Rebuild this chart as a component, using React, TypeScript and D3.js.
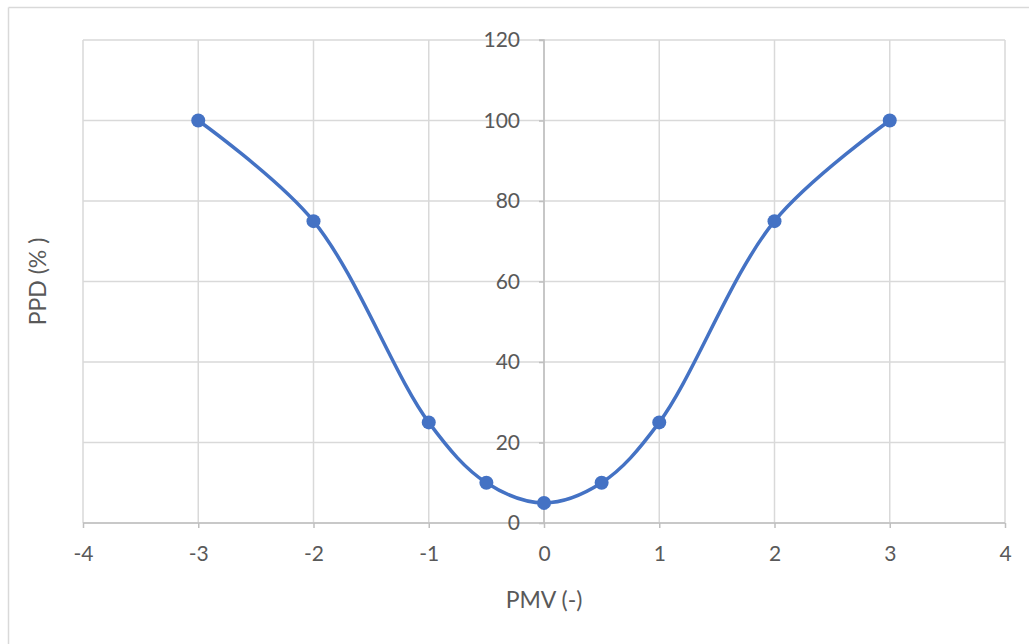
import React, { useEffect, useRef } from 'react';
import * as d3 from 'd3';

// PMV / PPD points
const pmvValues = [-3, -2, -1, -0.5, 0, 0.5, 1, 2, 3];
const ppdValues = [100, 75, 25, 10, 5, 10, 25, 75, 100];
const xTicks = [-4, -3, -2, -1, 0, 1, 2, 3, 4];
const yTicks = [0, 20, 40, 60, 80, 100, 120];

const W = 1029;
const H = 644;

const App = () => {
  const ref = useRef<SVGSVGElement | null>(null);

  useEffect(() => {
    const svg = d3.select(ref.current);
    svg.selectAll('*').remove();

    const margin = { top: 40, right: 24, bottom: 121, left: 83 };
    const font = 'Lato, "Open Sans", sans-serif';
    const textColor = '#595959';

    const x = d3.scaleLinear().domain([-4, 4]).range([margin.left, W - margin.right]);
    const y = d3.scaleLinear().domain([0, 120]).range([H - margin.bottom, margin.top]);

    // chart frame (only top + left visible in the crop)
    svg.append('line').attr('x1', 8.5).attr('x2', W).attr('y1', 7.5).attr('y2', 7.5)
      .attr('stroke', '#d9d9d9').attr('stroke-width', 1.5);
    svg.append('line').attr('x1', 8.5).attr('x2', 8.5).attr('y1', 7.5).attr('y2', H)
      .attr('stroke', '#d9d9d9').attr('stroke-width', 1.5);

    // gridlines
    svg.append('g').selectAll('line.v').data(xTicks).enter().append('line')
      .attr('x1', d => x(d)).attr('x2', d => x(d))
      .attr('y1', y(120)).attr('y2', y(0))
      .attr('stroke', '#d9d9d9').attr('stroke-width', 1.5);
    svg.append('g').selectAll('line.h').data(yTicks).enter().append('line')
      .attr('x1', x(-4)).attr('x2', x(4))
      .attr('y1', d => y(d)).attr('y2', d => y(d))
      .attr('stroke', '#d9d9d9').attr('stroke-width', 1.5);

    // axes crossing at 0
    const xAxis = d3.axisBottom(x).tickValues(xTicks).tickSize(5).tickPadding(18)
      .tickFormat(d => String(d).replace('−', '-'));
    const gx = svg.append('g').attr('transform', `translate(0, ${y(0)})`).call(xAxis);

    const yAxis = d3.axisLeft(y).tickValues(yTicks).tickSize(5).tickPadding(19)
      .tickFormat(d => String(d));
    const gy = svg.append('g').attr('transform', `translate(${x(0)}, 0)`).call(yAxis);

    [gx, gy].forEach(g => {
      g.select('.domain').attr('stroke', '#bfbfbf').attr('stroke-width', 1.5);
      g.selectAll('.tick line').attr('stroke', '#bfbfbf').attr('stroke-width', 1.5);
      g.selectAll('.tick text')
        .attr('fill', textColor)
        .attr('font-family', font)
        .attr('font-size', 21);
    });
    gy.select('.domain').attr('d', `M-5,${y(120)}H0V${y(0)}`);
    gx.select('.domain').attr('d', `M${x(-4)},0H${x(4)}`);

    // axis titles
    svg.append('text')
      .attr('x', (x(-4) + x(4)) / 2)
      .attr('y', 608)
      .attr('text-anchor', 'middle')
      .attr('fill', textColor)
      .attr('font-family', font)
      .attr('font-size', 23)
      .text('PMV (-)');

    svg.append('text')
      .attr('transform', `translate(46, ${(y(0) + y(120)) / 2}) rotate(-90)`)
      .attr('text-anchor', 'middle')
      .attr('fill', textColor)
      .attr('font-family', font)
      .attr('font-size', 23)
      .text('PPD (% )');

    // smoothed series
    const pts: [number, number][] = pmvValues.map((v, i) => [v, ppdValues[i]]);
    const line = d3.line<[number, number]>()
      .x(d => x(d[0]))
      .y(d => y(d[1]))
      .curve(d3.curveCatmullRom.alpha(0.5));

    svg.append('path')
      .datum(pts)
      .attr('d', line)
      .attr('fill', 'none')
      .attr('stroke', '#4472c4')
      .attr('stroke-width', 3.5)
      .attr('stroke-linejoin', 'round');

    svg.append('g').selectAll('circle').data(pts).enter().append('circle')
      .attr('cx', d => x(d[0]))
      .attr('cy', d => y(d[1]))
      .attr('r', 7)
      .attr('fill', '#4472c4');
  }, []);

  return (
    <svg
      ref={ref}
      width={W}
      height={H}
      style={{ position: 'fixed', left: 0, top: 0, background: '#fff' }}
    />
  );
};

export default App;
